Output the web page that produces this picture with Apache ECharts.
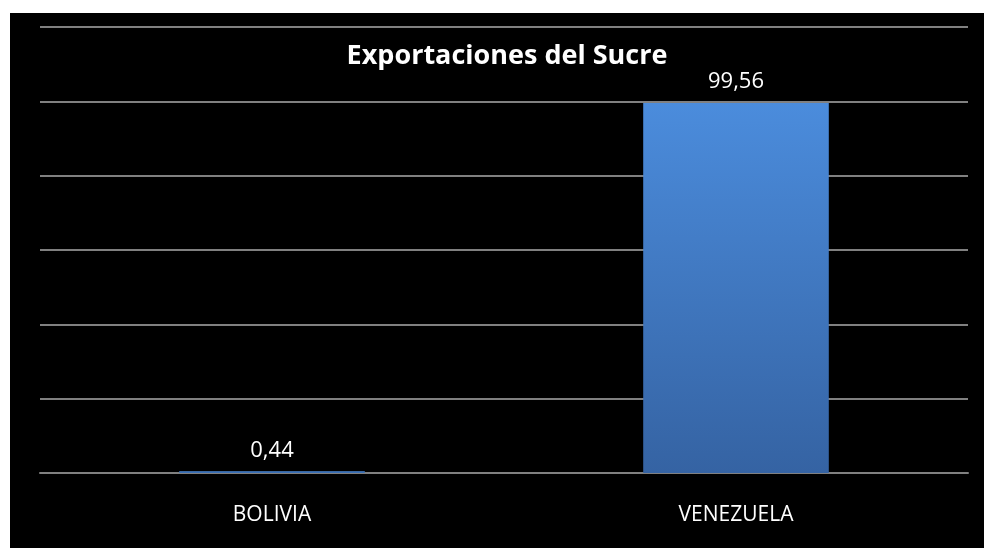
<!DOCTYPE html>
<html><head><meta charset="utf-8">
<script src="https://cdn.jsdelivr.net/npm/echarts@6/dist/echarts.min.js"></script>
<style>html,body{margin:0;padding:0;background:#fff}#c{width:984px;height:548px}</style>
</head><body><div id="c"></div>
<script>
const categories = ['BOLIVIA', 'VENEZUELA'];
const values = [0.44, 99.56];
const titleText = 'Exportaciones del Sucre';

const chart = echarts.init(document.getElementById('c'));
chart.setOption({
  backgroundColor: '#ffffff',
  animation: false,
  graphic: [{ type: 'rect', z: -10, shape: { x: 10, y: 13, width: 974, height: 535 }, style: { fill: '#000000' } }],
  title: {
    text: titleText, left: 502, top: 38, textAlign: 'center',
    textStyle: { color: '#ffffff', fontFamily: 'Open Sans', fontWeight: 'bold', fontSize: 27 }
  },
  grid: { left: 40, right: 16, top: 27, bottom: 75, containLabel: false },
  xAxis: {
    type: 'category', data: categories,
    axisLine: { show: true, lineStyle: { color: '#808080', width: 2 } },
    axisTick: { show: false },
    axisLabel: { color: '#ffffff', fontFamily: 'Open Sans', fontSize: 21, margin: 32 }
  },
  yAxis: {
    type: 'value', min: 0, max: 120, interval: 20,
    axisLabel: { show: false }, axisLine: { show: false }, axisTick: { show: false },
    splitLine: { lineStyle: { color: '#808080', width: 2 } }
  },
  series: [{
    type: 'bar', data: values, barWidth: '40%',
    itemStyle: {
      color: new echarts.graphic.LinearGradient(0, 0, 0, 1, [
        { offset: 0, color: '#4b8cdc' }, { offset: 1, color: '#3563a3' }
      ])
    },
    label: {
      show: true, position: 'top', distance: 10, color: '#ffffff', fontFamily: 'Open Sans', fontSize: 22,
      formatter: p => String(p.value).replace('.', ',')
    }
  }]
});
</script></body></html>
